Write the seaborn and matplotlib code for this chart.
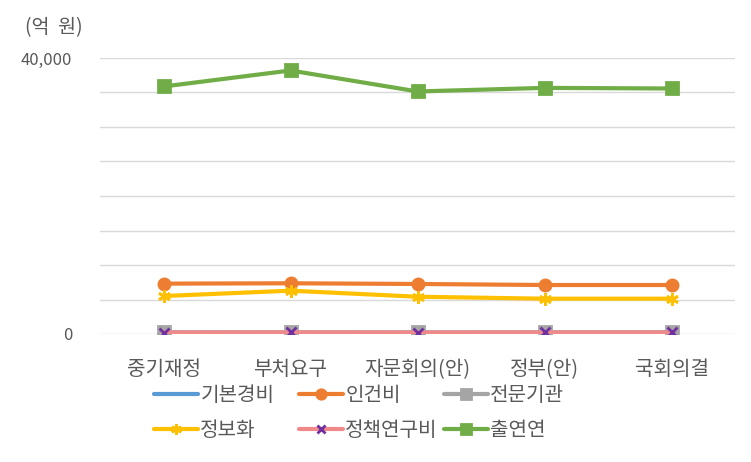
import matplotlib
matplotlib.use("Agg")
import matplotlib.pyplot as plt
import seaborn as sns
import pandas as pd
from matplotlib.ticker import FixedLocator

categories = ["중기재정", "부처요구", "자문회의(안)", "정부(안)", "국회의결"]
basic = [120, 120, 120, 120, 120]
personnel = [7300, 7350, 7250, 7100, 7100]
institutions = [260, 260, 250, 260, 260]
informatization = [5500, 6280, 5400, 5120, 5120]
policy_research = [210, 220, 210, 220, 220]
research_inst = [35870, 38190, 35150, 35670, 35580]
series_names = ["기본경비", "인건비", "전문기관", "정보화", "정책연구비", "출연연"]
yticks = list(range(0, 40001, 5000))

sns.set_theme(style="white")
plt.rcParams["font.family"] = ["Noto Sans CJK KR", "DejaVu Sans"]

values = [basic, personnel, institutions, informatization, policy_research, research_inst]
df = pd.DataFrame({
    "cat": categories * len(series_names),
    "series": [s for s in series_names for _ in categories],
    "val": [v for vals in values for v in vals],
})

styles = {
    "기본경비": dict(color="#5B9BD5", marker=None),
    "인건비": dict(color="#ED7D31", marker="o", ms=8, mfc="#ED7D31", mec="#ED7D31"),
    "전문기관": dict(color="#A5A5A5", marker="s", ms=8, mfc="#A5A5A5", mec="#A5A5A5"),
    "정보화": dict(color="#FFC000", marker=(6, 2, 0), ms=9, mfc="#FFC000", mec="#FFC000"),
    "정책연구비": dict(color="#F08A8A", marker="x", ms=7, mfc="#7030A0", mec="#7030A0"),
    "출연연": dict(color="#70AD47", marker="s", ms=8, mfc="#70AD47", mec="#70AD47"),
}

fig = plt.figure(figsize=(7.51, 4.62), dpi=100)
ax = fig.add_axes([100 / 751, 1 - 334 / 462, 635 / 751, 276 / 462])

handles = []
for name in series_names:
    st = styles[name]
    sub = df[df["series"] == name]
    kw = dict(color=st["color"], linewidth=3.0, sort=False, ax=ax, legend=False)
    if st["marker"] is not None:
        kw.update(marker=st["marker"], markersize=st["ms"], markerfacecolor=st["mfc"],
                  markeredgecolor=st["mec"], markeredgewidth=2)
    sns.lineplot(data=sub, x="cat", y="val", **kw)
    handles.append(ax.lines[-1])

ax.set_xlim(-0.5, 4.5)
ax.set_ylim(0, 40000)
ax.yaxis.set_major_locator(FixedLocator(yticks))
ax.set_yticklabels(["{:,}".format(t) if t in (0, 40000) else "" for t in yticks])
ax.grid(axis="y", color="#D9D9D9", linewidth=1)
ax.set_axisbelow(True)
for sp in ax.spines.values():
    sp.set_visible(False)
ax.set_xlabel("")
ax.set_ylabel("")
ax.tick_params(axis="y", length=0, pad=20, labelsize=12, labelcolor="#595959")
ax.tick_params(axis="x", length=0, pad=18, labelsize=14.5, labelcolor="#595959")

fig.text(25 / 751, 1 - 28 / 462, "(억  원)", fontsize=14, color="#595959", va="center", ha="left")

col_x = [154, 299, 444]
for c in range(3):
    hs = [handles[c], handles[c + 3]]
    ls = [series_names[c], series_names[c + 3]]
    fig.legend(hs, ls, loc="upper left", bbox_to_anchor=(col_x[c] / 751, 1 - 385 / 462),
               frameon=False, fontsize=14.5, handlelength=2.2, handletextpad=0.1,
               labelspacing=0.7, numpoints=1, borderpad=0, borderaxespad=0,
               labelcolor="#595959", markerscale=0.85)

fig.savefig("out.png", dpi=100)
